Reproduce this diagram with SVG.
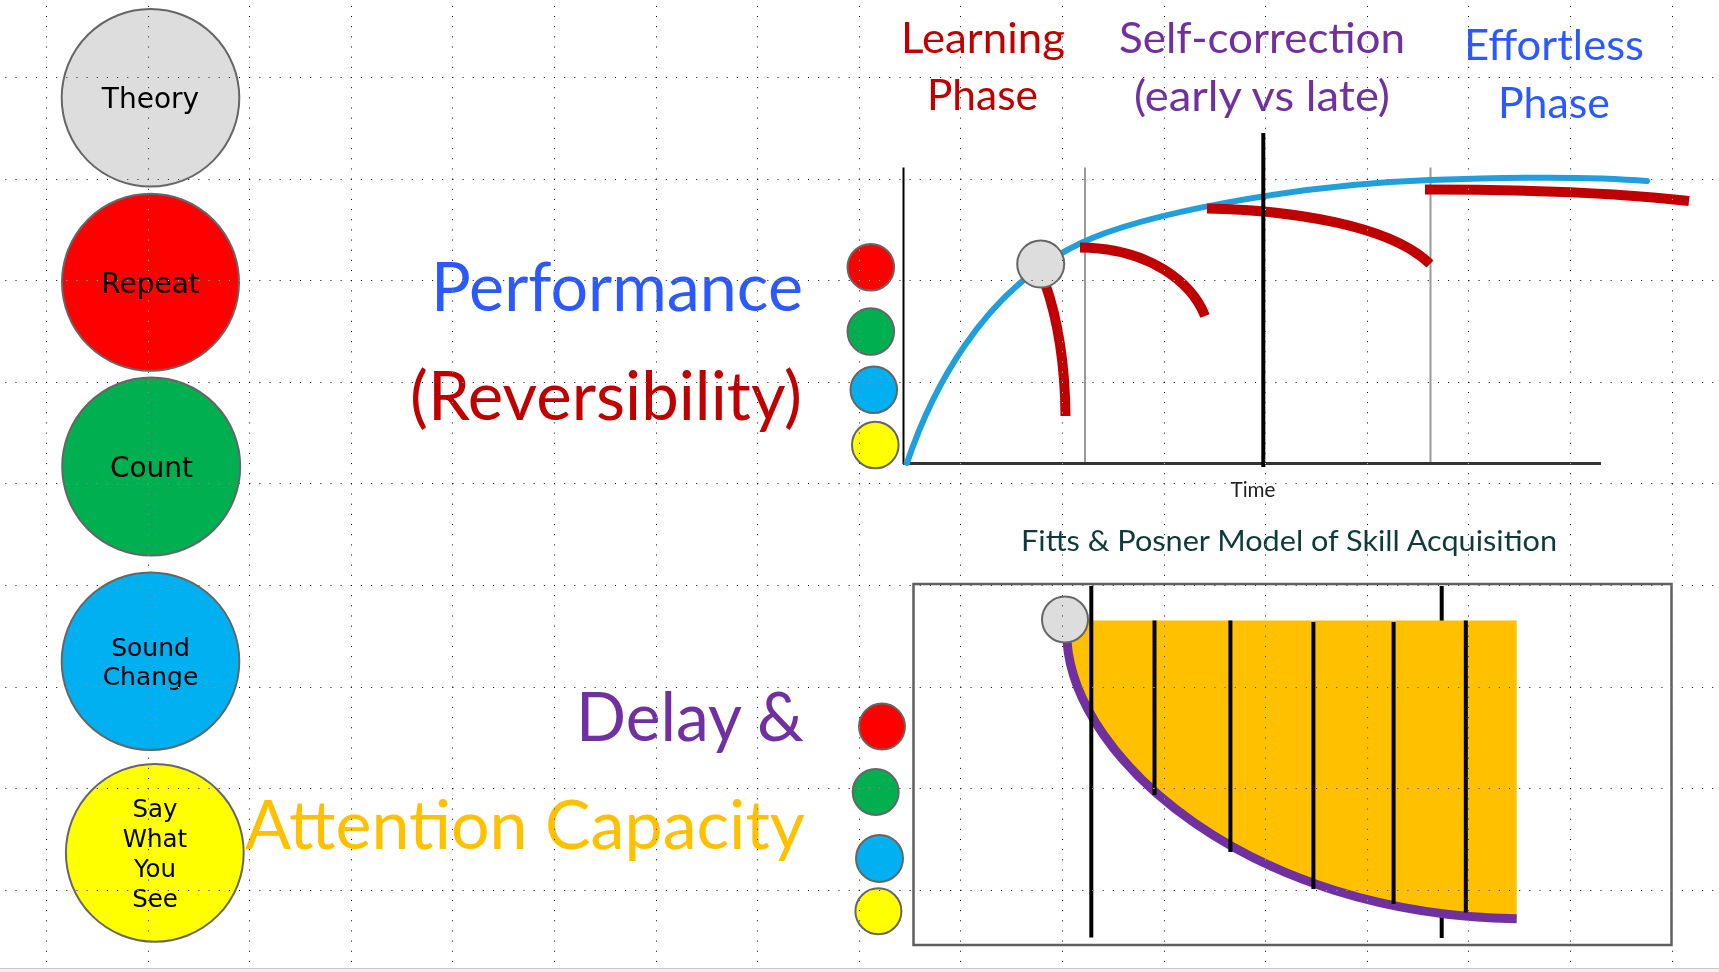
<svg xmlns="http://www.w3.org/2000/svg" width="1719" height="972" viewBox="0 0 1719 972">
<defs>
<style>
.node{stroke:#666;stroke-width:2}
.lbl{font-family:"DejaVu Sans",Verdana,sans-serif;fill:#000;text-anchor:middle}
.big{font-family:Lato,"Liberation Sans",sans-serif;text-anchor:middle}
.red{stroke:#C00000;stroke-width:10;fill:none;stroke-linecap:butt}
.vline{stroke:#000;stroke-width:4}
.grid line{stroke:#fff;stroke-width:1;stroke-dasharray:1 9.16}
</style>
</defs>
<rect x="0" y="0" width="1719" height="972" fill="#fff"/>
<rect x="0" y="968" width="1719" height="4" fill="#f0f0f0"/>
<line x1="0" y1="968.5" x2="1719" y2="968.5" stroke="#c8c8c8" stroke-width="1"/>

<g id="theory"><circle class="node" cx="150.5" cy="97.8" r="88.8" fill="#DDDDDD"/><text class="lbl" x="150.5" y="108.3" font-size="28">Theory</text></g>
<g id="repeat"><circle class="node" cx="150.5" cy="282.3" r="88.5" fill="#FF0000"/><text class="lbl" x="150.5" y="293.3" font-size="28">Repeat</text></g>
<g id="count"><circle class="node" cx="151.2" cy="466.5" r="89" fill="#00B050"/><text class="lbl" x="151.5" y="477.3" font-size="28">Count</text></g>
<g id="sound-change"><circle class="node" cx="150.5" cy="661.2" r="88.8" fill="#00B0F0"/><text class="lbl" x="150.5" y="656" font-size="25">Sound</text><text class="lbl" x="150.5" y="685" font-size="25">Change</text></g>
<g id="say-what-you-see"><circle class="node" cx="154.8" cy="852.8" r="88.9" fill="#FFFF00"/><text class="lbl" x="155" y="817.3" font-size="24.5">Say</text><text class="lbl" x="155" y="847.3" font-size="24.5">What</text><text class="lbl" x="155" y="877.3" font-size="24.5">You</text><text class="lbl" x="155" y="907.3" font-size="24.5">See</text></g>

<g id="labels">
<text class="big" x="617" y="311" font-size="67" fill="#2B59FF" textLength="372" lengthAdjust="spacingAndGlyphs">Performance</text>
<text class="big" x="606" y="420" font-size="67" fill="#C00000" textLength="392" lengthAdjust="spacingAndGlyphs">(Reversibility)</text>
<text class="big" x="690" y="741" font-size="68" fill="#7030A0" textLength="228" lengthAdjust="spacingAndGlyphs">Delay &amp;</text>
<text class="big" x="525" y="849" font-size="68" fill="#FFC000" textLength="560" lengthAdjust="spacingAndGlyphs">Attention Capacity</text>
<text class="big" x="983" y="53" font-size="43" fill="#C00000" textLength="164" lengthAdjust="spacingAndGlyphs">Learning</text>
<text class="big" x="982.5" y="110" font-size="43" fill="#C00000" textLength="111" lengthAdjust="spacingAndGlyphs">Phase</text>
<text class="big" x="1262" y="53" font-size="43" fill="#7030A0" textLength="286" lengthAdjust="spacingAndGlyphs">Self-correction</text>
<text class="big" x="1262" y="111" font-size="43" fill="#7030A0" textLength="256" lengthAdjust="spacingAndGlyphs">(early vs late)</text>
<text class="big" x="1554" y="60" font-size="43" fill="#2B59FF" textLength="180" lengthAdjust="spacingAndGlyphs">Effortless</text>
<text class="big" x="1554" y="118" font-size="43" fill="#2B59FF" textLength="112" lengthAdjust="spacingAndGlyphs">Phase</text>
<text class="big" x="1253" y="497" font-size="21" fill="#222" textLength="45" lengthAdjust="spacingAndGlyphs">Time</text>
<text class="big" x="1289" y="551" font-size="28" fill="#0E3B3A" textLength="536" lengthAdjust="spacingAndGlyphs">Fitts &amp; Posner Model of Skill Acquisition</text>
</g>

<g id="performance-chart">
<line x1="903.5" y1="167.5" x2="903.5" y2="464" stroke="#000" stroke-width="2"/>
<line x1="1085" y1="167.5" x2="1085" y2="463" stroke="#999" stroke-width="2"/>
<line x1="1430.5" y1="167.5" x2="1430.5" y2="463" stroke="#999" stroke-width="2"/>
<line x1="903" y1="463.5" x2="1601" y2="463.5" stroke="#333" stroke-width="3"/>
<path d="M907,463 C930,395 980,291 1081,243 C1140,215 1290,185 1430,180 C1530,176.4 1600,177 1647,181" fill="none" stroke="#1FA0DC" stroke-width="6" stroke-linecap="round"/>
<path class="red" d="M1045,283 C1058,320 1065,360 1065.5,416"/>
<path class="red" d="M1080,247.5 C1150,248 1192,283 1205,316"/>
<path class="red" d="M1207,208.5 C1290,210 1390,225 1430,264"/>
<path class="red" d="M1425,189.5 C1520,189.5 1610,192 1689,201" stroke-width="11"/>
<line x1="1263.3" y1="133" x2="1263.3" y2="467" stroke="#000" stroke-width="4"/>
<circle class="node" cx="1040.7" cy="264" r="23.5" fill="#DDDDDD"/>
<circle class="node" cx="870.8" cy="267.3" r="23.3" fill="#FF0000"/>
<circle class="node" cx="870.8" cy="331.5" r="23.3" fill="#00B050"/>
<circle class="node" cx="873.8" cy="389.8" r="23.3" fill="#00B0F0"/>
<circle class="node" cx="875.3" cy="445" r="23.3" fill="#FFFF00"/>
</g>

<g id="delay-chart">
<rect x="913.5" y="584" width="758" height="361" fill="none" stroke="#5f5f5f" stroke-width="2.5"/>
<line x1="1441.7" y1="586" x2="1441.7" y2="938" stroke="#000" stroke-width="4"/>
<path d="M1067,620.5 H1516.7 V918.7 C1250,915 1075,760 1067,641 Z" fill="#FFC000"/>
<path d="M1067,641 C1075,760 1250,915 1516.7,918.7" fill="none" stroke="#7030A0" stroke-width="9"/>
<line class="vline" x1="1091.3" y1="586" x2="1091.3" y2="937.5"/>
<line class="vline" x1="1154.5" y1="620.5" x2="1154.5" y2="795"/>
<line class="vline" x1="1230.4" y1="620.5" x2="1230.4" y2="852"/>
<line class="vline" x1="1313.4" y1="622" x2="1313.4" y2="889"/>
<line class="vline" x1="1393.6" y1="622" x2="1393.6" y2="904"/>
<line class="vline" x1="1465.8" y1="620.5" x2="1465.8" y2="912.5"/>
<circle class="node" cx="1065" cy="619.5" r="23" fill="#DDDDDD"/>
<circle class="node" cx="882" cy="726.6" r="23" fill="#FF0000"/>
<circle class="node" cx="875.7" cy="792" r="23" fill="#00B050"/>
<circle class="node" cx="879.5" cy="858.4" r="23.5" fill="#00B0F0"/>
<circle class="node" cx="878.4" cy="911.2" r="23" fill="#FFFF00"/>
</g>

<g class="grid" style="mix-blend-mode:difference">
<line x1="-4.8" y1="77.5" x2="1719" y2="77.5"/>
<line x1="-4.8" y1="179.5" x2="1719" y2="179.5"/>
<line x1="-4.8" y1="280.5" x2="1719" y2="280.5"/>
<line x1="-4.8" y1="382.5" x2="1719" y2="382.5"/>
<line x1="-4.8" y1="483.5" x2="1719" y2="483.5"/>
<line x1="-4.8" y1="585.5" x2="1719" y2="585.5"/>
<line x1="-4.8" y1="687.5" x2="1719" y2="687.5"/>
<line x1="-4.8" y1="788.5" x2="1719" y2="788.5"/>
<line x1="-4.8" y1="890.5" x2="1719" y2="890.5"/>
<line x1="46.5" y1="-4.28" x2="46.5" y2="967"/>
<line x1="148.5" y1="-4.28" x2="148.5" y2="967"/>
<line x1="249.5" y1="-4.28" x2="249.5" y2="967"/>
<line x1="351.5" y1="-4.28" x2="351.5" y2="967"/>
<line x1="452.5" y1="-4.28" x2="452.5" y2="967"/>
<line x1="554.5" y1="-4.28" x2="554.5" y2="967"/>
<line x1="656.5" y1="-4.28" x2="656.5" y2="967"/>
<line x1="757.5" y1="-4.28" x2="757.5" y2="967"/>
<line x1="859.5" y1="-4.28" x2="859.5" y2="967"/>
<line x1="960.5" y1="-4.28" x2="960.5" y2="967"/>
<line x1="1062.5" y1="-4.28" x2="1062.5" y2="967"/>
<line x1="1164.5" y1="-4.28" x2="1164.5" y2="967"/>
<line x1="1265.5" y1="-4.28" x2="1265.5" y2="967"/>
<line x1="1367.5" y1="-4.28" x2="1367.5" y2="967"/>
<line x1="1468.5" y1="-4.28" x2="1468.5" y2="967"/>
<line x1="1570.5" y1="-4.28" x2="1570.5" y2="967"/>
<line x1="1672.5" y1="-4.28" x2="1672.5" y2="967"/>
</g>
</svg>
